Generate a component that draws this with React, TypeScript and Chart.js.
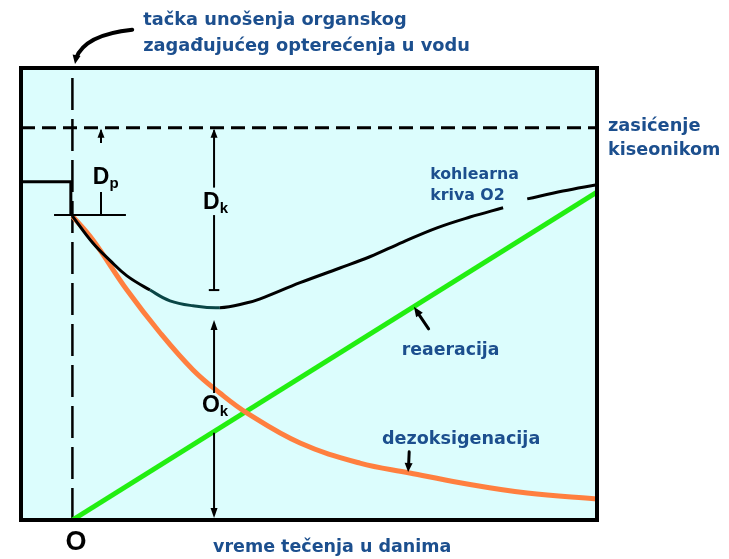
import React, { useEffect, useRef } from 'react';
import { Chart, registerables } from 'chart.js';

Chart.register(...registerables);

// ---- axis ranges (time in days on x, dissolved oxygen on y) ----
const X_MIN = -0.98;
const X_MAX = 10;
const Y_MIN = 0;
const Y_MAX = 9.22;
const SATURATION = 8;

// upstream oxygen level and the drop at the point of discharge
const upstreamX = [-0.98, -0.03, -0.03];
const upstreamY = [6.9, 6.9, 6.22];

// oxygen sag curve ("kohlearna kriva O2"); null = gap under label
const sagX = [0, 0.39, 0.72, 1.04, 1.48, 1.86, 2.3, 2.81, 3.33, 3.58, 4.34, 5.1, 5.67, 6.3, 6.95, 7.58, 8.21, 8.42, 8.67, 9.35, 10];
const sagY = [6.2, 5.65, 5.29, 4.98, 4.69, 4.47, 4.37, 4.33, 4.43, 4.51, 4.84, 5.14, 5.37, 5.67, 5.96, 6.18, 6.37, null, 6.55, 6.71, 6.84];
const sagDarkFrom = 1.48;
const sagDarkTo = 2.81;

// deoxygenation curve
const deoxX = [0, 0.39, 1.04, 1.67, 2.3, 2.81, 3.33, 4.34, 5.48, 6.43, 7.39, 8.67, 10];
const deoxY = [6.2, 5.71, 4.69, 3.82, 3.06, 2.59, 2.18, 1.57, 1.16, 0.96, 0.76, 0.55, 0.43];

// reaeration line
const reaerX = [0, 10];
const reaerY = [0, 6.69];

// saturation and discharge-point reference lines
const saturationX = [X_MIN, X_MAX];
const dischargeY = [Y_MIN, Y_MAX];

const TEXT_BLUE = '#1c4f8e';

const blueLabels = [
  { text: 'tačka unošenja organskog', x: 1.35, y: 10.2, size: 17.8 },
  { text: 'zagađujućeg opterećenja u vodu', x: 1.35, y: 9.67, size: 17.8 },
  { text: 'zasićenje', x: 10.21, y: 8.02, size: 17.8 },
  { text: 'kiseonikom', x: 10.21, y: 7.53, size: 17.6 },
  { text: 'kohlearna', x: 6.82, y: 7.04, size: 15.8 },
  { text: 'kriva O2', x: 6.82, y: 6.61, size: 15.8 },
  { text: 'reaeracija', x: 6.28, y: 3.45, size: 17.3 },
  { text: 'dezoksigenacija', x: 5.9, y: 1.65, size: 17.6 },
  { text: 'vreme tečenja u danima', x: 2.68, y: -0.57, size: 17.5 },
];

const pts = (xs: number[], ys: (number | null)[]) => xs.map((x, i) => ({ x, y: ys[i] }));

function head(ctx: CanvasRenderingContext2D, tx: number, ty: number, fx: number, fy: number, len = 10, w = 4) {
  const a = Math.atan2(ty - fy, tx - fx);
  ctx.beginPath();
  ctx.moveTo(tx, ty);
  ctx.lineTo(tx - len * Math.cos(a) + w * Math.sin(a), ty - len * Math.sin(a) - w * Math.cos(a));
  ctx.lineTo(tx - len * Math.cos(a) - w * Math.sin(a), ty - len * Math.sin(a) + w * Math.cos(a));
  ctx.closePath();
  ctx.fill();
}

const annotations = {
  id: 'annotations',
  beforeDatasetsDraw(chart: any) {
    const { ctx, chartArea: a } = chart;
    ctx.save();
    ctx.fillStyle = '#dcfdfd';
    ctx.fillRect(a.left, a.top, a.right - a.left, a.bottom - a.top);
    ctx.restore();
  },
  afterDatasetsDraw(chart: any) {
    const { ctx, chartArea: a } = chart;
    const X = (v: number) => chart.scales.x.getPixelForValue(v);
    const Y = (v: number) => chart.scales.y.getPixelForValue(v);
    ctx.save();
    // frame
    ctx.strokeStyle = '#000';
    ctx.lineWidth = 4;
    ctx.strokeRect(a.left, a.top, a.right - a.left, a.bottom - a.top);

    ctx.fillStyle = '#000';
    ctx.lineWidth = 2;
    const vline = (x: number, y1: number, y2: number) => {
      ctx.beginPath();
      ctx.moveTo(X(x), Y(y1));
      ctx.lineTo(X(x), Y(y2));
      ctx.stroke();
    };
    const hline = (x1: number, x2: number, y: number) => {
      ctx.beginPath();
      ctx.moveTo(X(x1), Y(y));
      ctx.lineTo(X(x2), Y(y));
      ctx.stroke();
    };

    // initial level tick at discharge point
    hline(-0.35, 1.02, 6.22);

    // Dp
    vline(0.545, SATURATION - 0.05, 7.69);
    head(ctx, X(0.545), Y(SATURATION) + 1, X(0.545), Y(7.69), 9, 3.5);
    vline(0.545, 6.69, 6.22);
    // Dk
    vline(2.7, SATURATION - 0.05, 6.78);
    head(ctx, X(2.7), Y(SATURATION) + 1, X(2.7), Y(6.78), 9, 3.5);
    vline(2.7, 6.22, 4.69);
    hline(2.6, 2.8, 4.69);
    // Ok
    vline(2.7, 4.0, 2.59);
    head(ctx, X(2.7), Y(4.08), X(2.7), Y(2.59), 10, 3.5);
    vline(2.7, 1.78, 0.1);
    head(ctx, X(2.7), Y(0.04), X(2.7), Y(1.78), 10, 3.5);

    // black symbols
    ctx.textBaseline = 'middle';
    ctx.textAlign = 'left';
    const sym = (main: string, sub: string, x: number, y: number) => {
      ctx.font = 'bold 23px "Liberation Sans", Arial, sans-serif';
      ctx.fillText(main, X(x), Y(y));
      const w = ctx.measureText(main).width;
      ctx.font = 'bold 15px "Liberation Sans", Arial, sans-serif';
      ctx.fillText(sub, X(x) + w, Y(y) + 6);
    };
    sym('D', 'p', 0.39, 6.98);
    sym('D', 'k', 2.49, 6.47);
    sym('O', 'k', 2.47, 2.33);
    ctx.textAlign = 'center';
    ctx.font = 'bold 27px "Liberation Sans", Arial, sans-serif';
    ctx.fillText('O', X(0.07), Y(-0.47));

    // pointer arrows
    ctx.lineWidth = 4;
    ctx.lineCap = 'round';
    ctx.beginPath();
    ctx.moveTo(X(1.14), Y(10.0));
    ctx.quadraticCurveTo(X(0.24), Y(9.9), X(0.07), Y(9.42));
    ctx.stroke();
    head(ctx, X(0.05), Y(9.3), X(0.09), Y(9.55), 9, 4);

    ctx.lineWidth = 3;
    ctx.beginPath();
    ctx.moveTo(X(6.79), Y(3.9));
    ctx.lineTo(X(6.6), Y(4.2));
    ctx.stroke();
    head(ctx, X(6.51), Y(4.35), X(6.79), Y(3.9), 10, 4);

    ctx.beginPath();
    ctx.moveTo(X(6.42), Y(1.39));
    ctx.lineTo(X(6.41), Y(1.15));
    ctx.stroke();
    head(ctx, X(6.4), Y(0.98), X(6.42), Y(1.39), 9, 4);

    // blue labels
    ctx.textAlign = 'left';
    ctx.fillStyle = TEXT_BLUE;
    blueLabels.forEach((l) => {
      ctx.font = `bold ${l.size}px "DejaVu Sans", Verdana, sans-serif`;
      ctx.fillText(l.text, X(l.x), Y(l.y));
    });
    ctx.restore();
  },
};

export default function App() {
  const ref = useRef<HTMLCanvasElement | null>(null);
  useEffect(() => {
    if (!ref.current) return;
    const chart = new Chart(ref.current, {
      type: 'line',
      data: {
        datasets: [
          {
            label: 'kohlearna kriva O2',
            data: pts(sagX, sagY) as any,
            borderColor: '#000',
            borderWidth: 3,
            tension: 0.4,
            spanGaps: false,
            pointRadius: 0,
            order: 1,
            segment: {
              borderColor: (c: any) =>
                c.p0.parsed.x >= sagDarkFrom && c.p1.parsed.x <= sagDarkTo ? '#0a4646' : '#000',
            },
          },
          {
            label: 'upstream',
            data: pts(upstreamX, upstreamY) as any,
            borderColor: '#000',
            borderWidth: 3,
            pointRadius: 0,
            tension: 0,
            order: 2,
          },
          {
            label: 'dezoksigenacija',
            data: pts(deoxX, deoxY) as any,
            borderColor: '#ff7f3f',
            borderWidth: 5,
            tension: 0.4,
            pointRadius: 0,
            order: 3,
          },
          {
            label: 'reaeracija',
            data: pts(reaerX, reaerY) as any,
            borderColor: '#22ee11',
            borderWidth: 5,
            pointRadius: 0,
            order: 4,
          },
          {
            label: 'zasićenje',
            data: pts(saturationX, [SATURATION, SATURATION]) as any,
            borderColor: '#000',
            borderWidth: 3,
            borderDash: [14, 7],
            pointRadius: 0,
            order: 5,
          },
          {
            label: 'discharge',
            data: pts([0, 0], dischargeY) as any,
            borderColor: '#000',
            borderWidth: 2.5,
            borderDash: [32, 9],
            pointRadius: 0,
            order: 6,
          },
        ],
      },
      options: {
        responsive: false,
        maintainAspectRatio: false,
        animation: false,
        layout: { padding: { left: 21, top: 68, right: 132, bottom: 39 } },
        scales: {
          x: { type: 'linear', min: X_MIN, max: X_MAX, display: false },
          y: { type: 'linear', min: Y_MIN, max: Y_MAX, display: false },
        },
        plugins: {
          legend: { display: false },
          tooltip: { enabled: false },
        },
      },
      plugins: [annotations],
    });
    return () => chart.destroy();
  }, []);
  return (
    <div style={{ position: 'fixed', left: 0, top: 0, width: 729, height: 559, background: '#fff' }}>
      <canvas ref={ref} width={729} height={559} style={{ display: 'block' }} />
    </div>
  );
}
